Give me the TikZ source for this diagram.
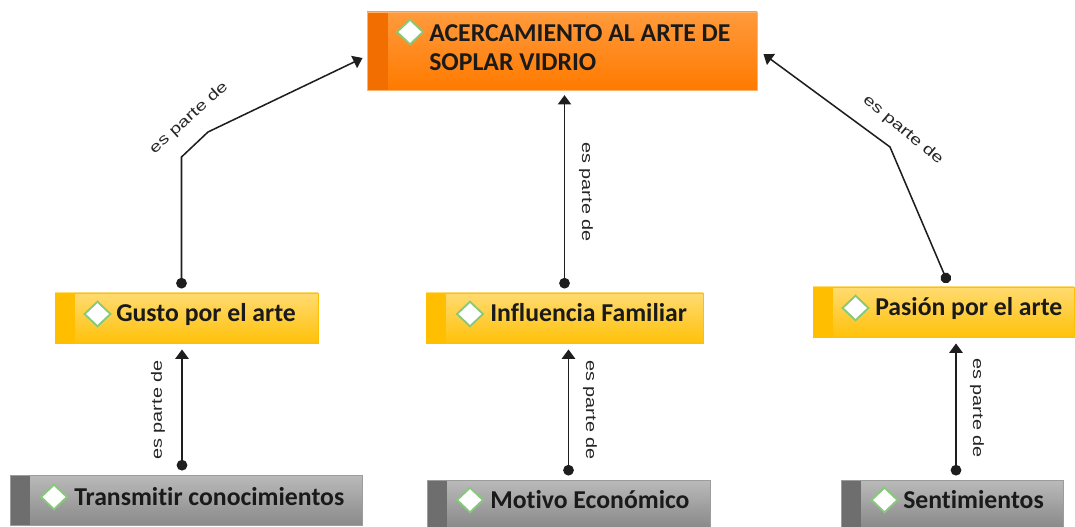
\documentclass[tikz,border=0pt]{standalone}
\usepackage{fontspec}
\setmainfont[Ligatures=NoCommon]{Carlito}
\newfontfamily\lblfont{Liberation Sans}
\usetikzlibrary{shapes.geometric,arrows.meta,calc,fit}
\definecolor{otop}{HTML}{FF9A3C}
\definecolor{obot}{HTML}{FF7A00}
\definecolor{ostr}{HTML}{F26E00}
\definecolor{obrd}{HTML}{FFB36B}
\definecolor{ytop}{HTML}{FFDB70}
\definecolor{ybot}{HTML}{FFC10A}
\definecolor{ystr}{HTML}{FFBE00}
\definecolor{ybrd}{HTML}{FFC000}
\definecolor{gtop}{HTML}{BABABA}
\definecolor{gbot}{HTML}{8A8A8A}
\definecolor{gstr}{HTML}{6E6E6E}
\definecolor{gbrd}{HTML}{9C9C9C}
\definecolor{dgreen}{HTML}{86C97A}
\definecolor{txt}{HTML}{1A1A1A}
\definecolor{lnk}{HTML}{1E1E1E}
\newcommand{\epd}{\scalebox{1.33}[1]{es parte de}}
\begin{document}
\begin{tikzpicture}[x=0.75pt,y=-0.75pt,
  box/.style={inner sep=0pt, line width=0.7pt},
  obox/.style={box, draw=obrd, top color=otop, bottom color=obot,
    path picture={\fill[ostr] (path picture bounding box.north west) rectangle ($(path picture bounding box.south west)+(21,0)$);}},
  ybox/.style={box, draw=ybrd, top color=ytop, bottom color=ybot,
    path picture={\fill[ystr] (path picture bounding box.north west) rectangle ($(path picture bounding box.south west)+(20,0)$);}},
  gbox/.style={box, draw=gbrd, top color=gtop, bottom color=gbot,
    path picture={\fill[gstr] (path picture bounding box.north west) rectangle ($(path picture bounding box.south west)+(20,0)$);}},
  dia/.style={diamond, draw=dgreen, fill=white, line width=1.4pt, inner sep=0pt,
    minimum width=20pt, minimum height=19pt},
  ttl/.style={anchor=base west, inner sep=0pt, text=txt, font=\fontsize{19.3pt}{23pt}\selectfont\bfseries},
  conn/.style={draw=lnk, line width=1.15pt, {Circle[length=8pt]}-{Triangle[width=10pt,length=7pt]}},
  lbl/.style={inner sep=0pt, text=black!85, font=\lblfont\fontsize{11.2pt}{13pt}\selectfont}
]
\useasboundingbox (0,0) rectangle (1075,527);

% boxes
\node[obox, fit={(367,12)(757,90)}] (top) {};
\node[ybox, fit={(55,293)(318,343)}] (gusto) {};
\node[ybox, fit={(426,293)(703,343)}] (influ) {};
\node[ybox, fit={(813,287)(1074,337)}] (pasion) {};
\node[gbox, fit={(10,475)(362,525)}] (trans) {};
\node[gbox, fit={(427,480)(710,527)}] (motivo) {};
\node[gbox, fit={(841,480)(1063,527)}] (senti) {};

% diamonds
\node[dia] (dtop) at (410,32) {};
\node[dia] (dgusto) at (97.5,314) {};
\node[dia] (dinflu) at (470,314) {};
\node[dia] (dpasion) at (855.5,308) {};
\node[dia] (dtrans) at (54,497) {};
\node[dia] (dmotivo) at (470,500) {};
\node[dia] (dsenti) at (884.5,500) {};

% texts
\node[ttl] (ttop1) at (429,42) {ACERCAMIENTO AL ARTE DE};
\node[ttl] (ttop2) at (429,71) {SOPLAR VIDRIO};
\node[ttl] (tgusto) at (116,322) {Gusto por el arte};
\node[ttl] (tinflu) at (490,322) {Influencia Familiar};
\node[ttl] (tpasion) at (875,316) {Pasión por el arte};
\node[ttl] (ttrans) at (74,505) {Transmitir conocimientos};
\node[ttl] (tmotivo) at (490,508) {Motivo Económico};
\node[ttl] (tsenti) at (903,508) {Sentimientos};

% connector points
\coordinate (gs) at ($(gusto.north)+(-5,0)$);
\coordinate (b1) at (181.5,157);
\coordinate (b2) at (208,132);
\coordinate (te) at ($(top.west)+(-4,7)$);
\coordinate (ps) at ($(pasion.north)+(6,0)$);
\coordinate (b3) at (890,147);
\coordinate (tw) at ($(top.east)+(6,3)$);
\coordinate (tb) at ($(trans.north)+(-4,0)$);
\coordinate (sb) at ($(senti.north)+(4,0)$);

% connectors
\draw[conn, shorten <=3pt] (gs) -- (b1) -- (b2) -- (te);
\draw[conn, shorten <=3pt, shorten >=3.5pt] (influ.north) -- (influ.north |- top.south);
\draw[conn, shorten <=3pt] (ps) -- (b3) -- (tw);
\draw[conn, shorten <=3pt, shorten >=4.5pt] (tb) -- (tb |- gusto.south);
\draw[conn, shorten <=3pt, shorten >=4.5pt] (motivo.north) -- (motivo.north |- influ.south);
\draw[conn, shorten <=3pt, shorten >=4.5pt] (sb) -- (sb |- pasion.south);

% labels
\node[lbl, rotate=42] (l1) at (189,118) {\epd};
\node[lbl, rotate=-90] (l2) at (586,192) {\epd};
\node[lbl, rotate=-40] (l3) at (903,130) {\epd};
\node[lbl, rotate=90] (l4) at (158,410) {\epd};
\node[lbl, rotate=-90] (l5) at (590,410) {\epd};
\node[lbl, rotate=-90] (l6) at (977,408) {\epd};
\end{tikzpicture}
\end{document}
